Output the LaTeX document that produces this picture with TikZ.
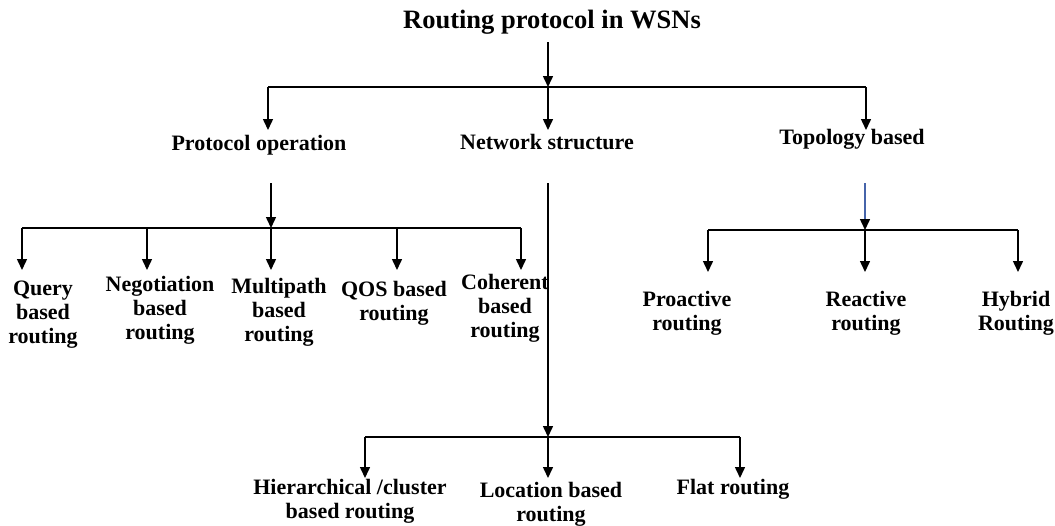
\documentclass[tikz,border=0pt]{standalone}
\usepackage{fontspec}
\setmainfont{Liberation Serif}
\usetikzlibrary{arrows.meta}
\definecolor{arrblue}{RGB}{70,100,170}
\begin{document}
\begin{tikzpicture}[x=1pt,y=-1pt,
  arr/.style={line width=1.5pt,-{Triangle[length=11pt,width=10pt]}},
  bararr/.style={line width=1.5pt},
  lbl/.style={font=\bfseries\fontsize{22}{24}\selectfont,align=center,inner sep=0pt,anchor=north},
  lblone/.style={font=\bfseries\fontsize{22}{24}\selectfont,inner sep=0pt,anchor=base},
  ttl/.style={font=\bfseries\fontsize{26.5}{30}\selectfont,inner sep=0pt,anchor=base}]
\useasboundingbox (0,0) rectangle (1055,525);

% title and level 1
\node[ttl] (title) at (552,28) {Routing protocol in WSNs};
\node[lblone] (po) at (259,150) {Protocol operation};
\node[lblone] (ns) at (547,149) {Network structure};
\node[lblone] (tb) at (852,144) {Topology based};

\coordinate (t0) at (548,42);
\coordinate (j0) at (548,87);
\coordinate (b0L) at (268,87);
\coordinate (b0R) at (866,87);
\draw[arr] (t0) -- (j0);
\draw[bararr] (b0L) -- (b0R);
\draw[arr] (b0L) -- (268,130);
\draw[arr] (j0) -- (548,130);
\draw[arr] (b0R) -- (866,130);

% protocol operation group
\node[lbl] (q) at (43,281) {Query\\based\\routing};
\node[lbl] (neg) at (160,276) {Negotiation\\based\\routing};
\node[lbl] (mp) at (279,278) {Multipath\\based\\routing};
\node[lbl] (qos) at (394,281) {QOS based\\routing};
\node[lbl] (coh) at (505,274) {Coherent\\based\\routing};

\coordinate (p0) at (271,183);
\coordinate (pj) at (271,228);
\coordinate (pL) at (22,228);
\coordinate (pR) at (521,228);
\draw[arr] (p0) -- (pj);
\draw[bararr] (pL) -- (pR);
\draw[arr] (pL) -- (22,270);
\draw[arr] (147,228) -- (147,270);
\draw[arr] (pj) -- (271,270);
\draw[arr] (397,228) -- (397,270);
\draw[arr] (pR) -- (521,270);

% topology group
\node[lbl] (pro) at (687,291) {Proactive\\routing};
\node[lbl] (rea) at (866,291) {Reactive\\routing};
\node[lbl] (hyb) at (1016,291) {Hybrid\\Routing};

\coordinate (s0) at (865,183);
\coordinate (sj) at (865,230);
\coordinate (sL) at (708,230);
\coordinate (sR) at (1018,230);
\draw[line width=1.5pt,arrblue,-{Triangle[length=11pt,width=10pt,black]}] (s0) -- (sj);
\draw[bararr] (sL) -- (sR);
\draw[arr] (sL) -- (708,272);
\draw[arr] (sj) -- (865,272);
\draw[arr] (sR) -- (1018,272);

% network structure group
\node[lbl] (hier) at (350,479) {Hierarchical /cluster\\based routing};
\node[lbl] (loc) at (551,482) {Location based\\routing};
\node[lblone] (flat) at (733,494) {Flat routing};

\coordinate (n0) at (548,183);
\coordinate (nj) at (548,437);
\coordinate (nL) at (365,437);
\coordinate (nR) at (740,437);
\draw[arr] (n0) -- (nj);
\draw[bararr] (nL) -- (nR);
\draw[arr] (nL) -- (365,478);
\draw[arr] (nj) -- (548,478);
\draw[arr] (nR) -- (740,478);
\end{tikzpicture}
\end{document}
